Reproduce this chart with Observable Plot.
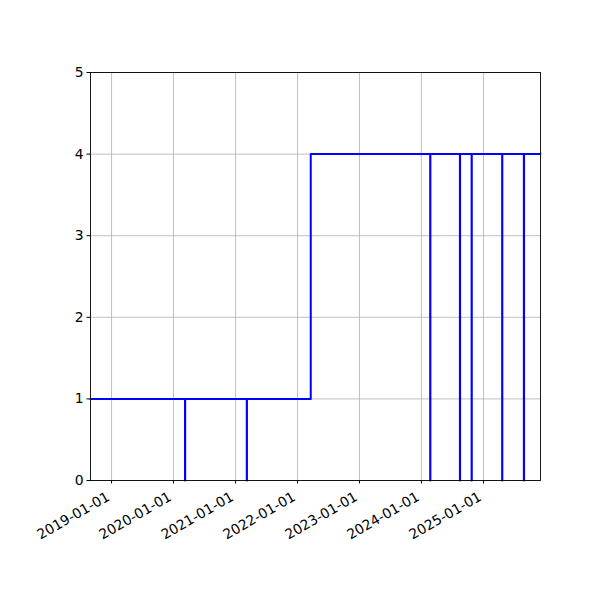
<!DOCTYPE html>
<html>
<head>
<meta charset="utf-8">
<script src="https://cdn.jsdelivr.net/npm/d3@7"></script>
<script src="https://cdn.jsdelivr.net/npm/@observablehq/plot@0.6"></script>
<style>
  html, body { margin: 0; padding: 0; background: #fff; }
</style>
</head>
<body>
<div id="chart"></div>
<script>
const dates = ["2018-08-30","2020-03-09","2020-03-10","2021-03-08","2021-03-09","2022-03-20",
  "2024-02-22","2024-02-23","2024-08-15","2024-08-16","2024-10-23","2024-10-24",
  "2025-04-21","2025-04-22","2025-08-27","2025-08-28","2025-12-03"];
const values = [1,0,1,0,1,4,0,4,0,4,0,4,0,4,0,4,4];
const xTickLabels = ["2019-01-01","2020-01-01","2021-01-01","2022-01-01","2023-01-01","2024-01-01","2025-01-01"];
const yTicks = [0,1,2,3,4,5];

const data = dates.map((d, i) => ({date: new Date(d + "T00:00:00Z"), value: values[i]}));
const xTicks = xTickLabels.map(s => new Date(s + "T00:00:00Z"));

const fontSize = "13.9px";
const chart = Plot.plot({
  width: 600,
  height: 600,
  marginLeft: 90,
  marginRight: 60,
  marginTop: 72,
  marginBottom: 120,
  style: {fontFamily: "DejaVu Sans", fontSize, background: "#fff", color: "#000"},
  x: {type: "utc", domain: [data[0].date, data[data.length - 1].date]},
  y: {domain: [0, 5]},
  marks: [
    Plot.gridX(xTicks, {stroke: "#b0b0b0", strokeOpacity: 1, strokeWidth: 0.8}),
    Plot.gridY(yTicks, {stroke: "#b0b0b0", strokeOpacity: 1, strokeWidth: 0.8}),
    Plot.lineY(data, {x: "date", y: "value", curve: "step-after", stroke: "#0000ff", strokeWidth: 2}),
    Plot.frame({stroke: "#000", strokeWidth: 0.9}),
    Plot.axisY({ticks: yTicks, tickSize: 3.5, tickPadding: 3.5, tickFormat: d3.format("d"), label: null, fontSize}),
    Plot.axisX({ticks: xTicks, tickSize: 3.5, tickFormat: () => "", label: null}),
    Plot.text(xTicks, {x: d => d, frameAnchor: "bottom", text: (d, i) => xTickLabels[i],
      rotate: -30, textAnchor: "end", lineAnchor: "bottom", dy: 19, dx: -1, fontSize, fill: "#000"})
  ]
});
document.getElementById("chart").appendChild(chart);
</script>
</body>
</html>
